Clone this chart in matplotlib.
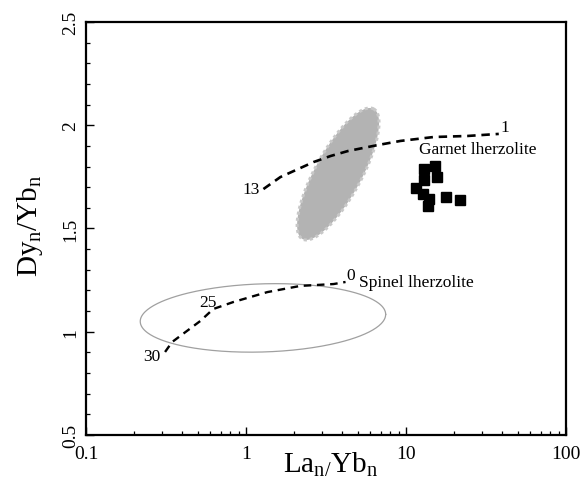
import numpy as np
import matplotlib
matplotlib.use("Agg")
import matplotlib.pyplot as plt
from matplotlib.ticker import FixedLocator, NullFormatter, LogLocator

plt.rcParams['font.family'] = ['Liberation Serif', 'DejaVu Serif']
plt.rcParams['mathtext.fontset'] = 'custom'
plt.rcParams['mathtext.rm'] = 'Liberation Serif'
plt.rcParams['mathtext.it'] = 'Liberation Serif:italic'

# --- data -------------------------------------------------------------
sample_la_yb = [12.9, 15.1, 12.9, 15.6, 11.5, 12.7, 13.9, 13.7, 17.8, 21.7]
sample_dy_yb = [1.788, 1.803, 1.735, 1.749, 1.696, 1.667, 1.643, 1.609, 1.653, 1.638]

garnet_la_yb = [1.285, 1.64, 2.65, 3.38, 4.33, 6.66, 9.24, 14.9, 24.2, 38.0]
garnet_dy_yb = [1.691, 1.749, 1.822, 1.851, 1.875, 1.904, 1.924, 1.943, 1.948, 1.958]

spinel_la_yb = [0.312, 0.345, 0.518, 0.624, 0.834, 1.36, 2.19, 3.53, 4.19]
spinel_dy_yb = [0.902, 0.950, 1.052, 1.110, 1.144, 1.192, 1.222, 1.231, 1.241]

# gray field: centre (log10 La/Yb, Dy/Yb), major semi-axis vector, minor semi-axis vector
gray_center = (0.5755, 1.764)
gray_major = (0.2225, 0.315)
gray_minor = (0.1266, -0.0533)

# open field
open_center = (0.106, 1.067)
open_major = (0.767, 0.017)
open_minor = (0.0, 0.165)

x_ticks = [0.1, 1, 10, 100]
x_ticklabels = ['0.1', '1', '10', '100']
y_ticks = [0.5, 1, 1.5, 2, 2.5]
y_ticklabels = ['0.5', '1', '1.5', '2', '2.5']


def ellipse(center, major, minor, n=300):
    t = np.linspace(0, 2 * np.pi, n)
    L = center[0] + np.cos(t) * major[0] + np.sin(t) * minor[0]
    y = center[1] + np.cos(t) * major[1] + np.sin(t) * minor[1]
    return 10 ** L, y


fig = plt.figure(figsize=(5.87, 4.89), dpi=100)
ax = fig.add_axes([0.1465, 0.1084, 0.8177, 0.8446])
ax.set_xscale('log')
ax.set_xlim(0.1, 100)
ax.set_ylim(0.5, 2.5)

# gray field
gx, gy = ellipse(gray_center, gray_major, gray_minor)
ax.fill(gx, gy, facecolor='#b3b3b3', edgecolor='#c8c8c8', linewidth=2.2,
        linestyle=(0, (1, 1)), zorder=2)

# open field
ox, oy = ellipse(open_center, open_major, open_minor)
ax.plot(ox, oy, color='#a0a0a0', linewidth=0.9, zorder=2)

# melting curves
ax.plot(garnet_la_yb, garnet_dy_yb, color='black', linewidth=1.9,
        dashes=(3.2, 2.2), zorder=3)
ax.plot(spinel_la_yb, spinel_dy_yb, color='black', linewidth=1.7,
        dashes=(3.2, 2.4), zorder=3)

# samples
ax.plot(sample_la_yb, sample_dy_yb, linestyle='none', marker='s',
        markersize=7.5, color='black', zorder=4)

# annotations
fs = 12.5
ax.text(1.22, 1.691, '13', ha='right', va='center', fontsize=fs)
ax.text(39, 1.99, '1', ha='left', va='center', fontsize=fs)
ax.text(12.0, 1.885, 'Garnet lherzolite', ha='left', va='center', fontsize=fs)
ax.text(4.26, 1.275, '0', ha='left', va='center', fontsize=fs)
ax.text(5.06, 1.241, 'Spinel lherzolite', ha='left', va='center', fontsize=fs)
ax.text(0.581, 1.144, '25', ha='center', va='center', fontsize=fs)
ax.text(0.259, 0.883, '30', ha='center', va='center', fontsize=fs)

# axes styling
for s in ax.spines.values():
    s.set_linewidth(1.6)

ax.xaxis.set_major_locator(FixedLocator(x_ticks))
ax.set_xticklabels(x_ticklabels)
ax.xaxis.set_minor_locator(LogLocator(base=10, subs=np.arange(2, 10)))
ax.xaxis.set_minor_formatter(NullFormatter())
ax.yaxis.set_major_locator(FixedLocator(y_ticks))
ax.set_yticklabels(y_ticklabels, rotation=90, va='center')
ax.yaxis.set_minor_locator(FixedLocator(np.arange(0.6, 2.5, 0.1)))

ax.tick_params(which='major', direction='in', length=6, width=1.0,
               labelsize=14, top=False, right=False)
ax.tick_params(which='minor', direction='in', length=3, width=0.9,
               top=False, right=False)
ax.tick_params(axis='x', which='major', pad=7)
ax.tick_params(axis='y', which='major', pad=5)

ax.set_xlabel(r'La$_{\rm n/}$Yb$_{\rm n}$', fontsize=21)
ax.xaxis.set_label_coords(0.51, -0.035)
ax.set_ylabel(r'Dy$_{\rm n}$/Yb$_{\rm n}$', fontsize=21)
ax.yaxis.set_label_coords(-0.085, 0.51)

fig.savefig('out.png', dpi=100)
